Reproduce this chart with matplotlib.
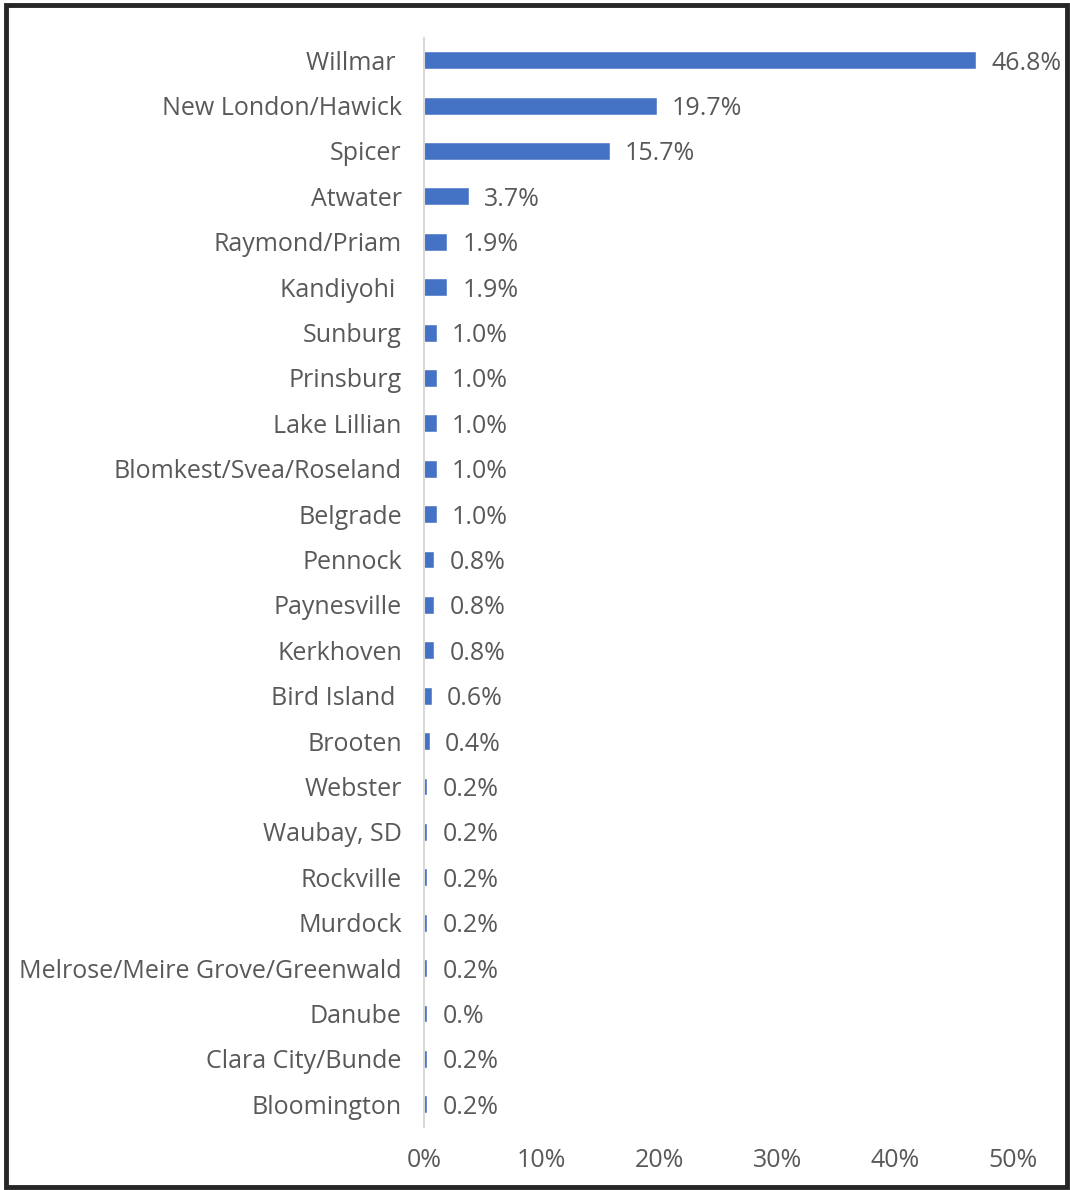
import matplotlib
matplotlib.use("Agg")
import matplotlib.pyplot as plt
from matplotlib.patches import Rectangle
from matplotlib.ticker import FuncFormatter

plt.rcParams['font.family'] = ['Open Sans', 'DejaVu Sans']

# Share of residents by community
communities = [
    "Willmar ", "New London/Hawick", "Spicer", "Atwater", "Raymond/Priam",
    "Kandiyohi ", "Sunburg", "Prinsburg", "Lake Lillian", "Blomkest/Svea/Roseland",
    "Belgrade", "Pennock", "Paynesville", "Kerkhoven", "Bird Island ",
    "Brooten", "Webster", "Waubay, SD", "Rockville", "Murdock",
    "Melrose/Meire Grove/Greenwald", "Danube", "Clara City/Bunde", "Bloomington",
]
shares = [
    46.8, 19.7, 15.7, 3.7, 1.9,
    1.9, 1.0, 1.0, 1.0, 1.0,
    1.0, 0.8, 0.8, 0.8, 0.6,
    0.4, 0.2, 0.2, 0.2, 0.2,
    0.2, 0.2, 0.2, 0.2,
]
value_labels = [
    "46.8%", "19.7%", "15.7%", "3.7%", "1.9%",
    "1.9%", "1.0%", "1.0%", "1.0%", "1.0%",
    "1.0%", "0.8%", "0.8%", "0.8%", "0.6%",
    "0.4%", "0.2%", "0.2%", "0.2%", "0.2%",
    "0.2%", "0.%", "0.2%", "0.2%",
]
x_ticks = [0, 10, 20, 30, 40, 50]

W, H = 1070, 1190
fig = plt.figure(figsize=(W / 100, H / 100), dpi=100)
fig.patch.set_facecolor("white")

ax = fig.add_axes([424 / W, 1 - 1127 / H, (1013 - 424) / W, (1127 - 37.5) / H])

text_color = "#595959"
bar_color = "#4472c4"
fs = 18

y = list(range(len(communities)))
ax.barh(y, shares, height=0.35, color=bar_color, edgecolor=bar_color, linewidth=0.4)
ax.set_ylim(len(communities) - 0.5, -0.5)
ax.set_xlim(0, 50)

ax.set_yticks(y)
ax.set_yticklabels(communities, fontsize=fs, color=text_color)
for lbl in ax.get_yticklabels():
    lbl.set_verticalalignment("center_baseline")
ax.set_xticks(x_ticks)
ax.xaxis.set_major_formatter(FuncFormatter(lambda v, p: f"{v:.0f}%"))
for lbl in ax.get_xticklabels():
    lbl.set_fontsize(fs)
    lbl.set_color(text_color)

ax.tick_params(axis="both", length=0)
ax.tick_params(axis="y", pad=16)
ax.tick_params(axis="x", pad=15)

for s in ["top", "right", "bottom"]:
    ax.spines[s].set_visible(False)
ax.spines["left"].set_color("#d9d9d9")
ax.spines["left"].set_linewidth(1.5)

for yi, v, t in zip(y, shares, value_labels):
    ax.annotate(t, xy=(v, yi), xytext=(16 * 0.72, 0), textcoords="offset points",
                va="center_baseline", ha="left", fontsize=fs, color=text_color)

fig.patches.append(Rectangle((5.5 / W, 3 / H), (1067 - 5.5) / W, (1185 - 3) / H,
                             transform=fig.transFigure, fill=False,
                             edgecolor="#262626", linewidth=3.5))

fig.savefig("out.png", dpi=100, facecolor="white")
